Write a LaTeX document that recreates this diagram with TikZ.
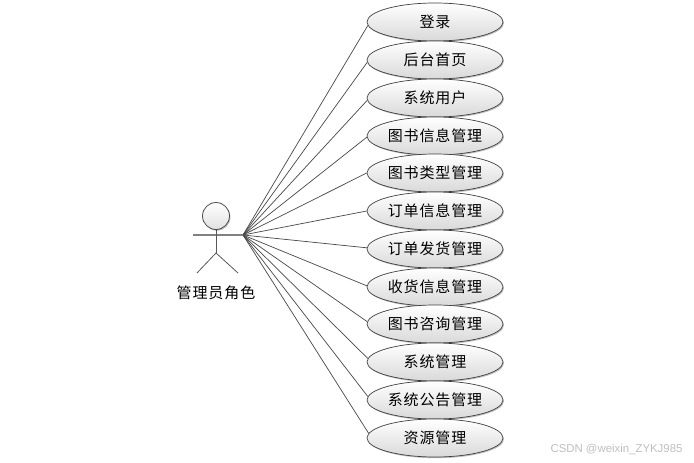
\documentclass[tikz,border=0pt]{standalone}
\usepackage{fontspec}
\usetikzlibrary{shapes.geometric,shadows}
\newfontfamily\cjk[LetterSpace=6]{Noto Sans CJK SC}
\setmainfont{Liberation Sans}
\tikzset{
  usecase/.style={ellipse,draw=black!75,line width=.7pt,minimum width=136pt,minimum height=38pt,inner sep=0pt,
    top color=white,bottom color=black!15,
    drop shadow={shadow xshift=1pt,shadow yshift=-1.2pt,opacity=.25,fill=black},
    font=\cjk\fontsize{15}{16}\selectfont,text=black},
  link/.style={draw=black!72,line width=.7pt},
  limb/.style={draw=black!65,line width=.8pt},
  arm/.style={draw=black!50,line width=1.1pt},
  head/.style={circle,draw=black!70,line width=.8pt,minimum size=27pt,inner sep=0pt,
    top color=white,bottom color=black!12,
    drop shadow={shadow xshift=1pt,shadow yshift=-1.2pt,opacity=.25,fill=black}},
  actorlabel/.style={font=\cjk\fontsize{15}{16}\selectfont,text=black,inner sep=0pt}
}
\begin{document}
\begin{tikzpicture}[x=1pt,y=-1pt]
\useasboundingbox (0,0) rectangle (694,463);
\fill[white] (0,0) rectangle (694,463);
\coordinate (hand) at (243,235);
\coordinate (lefthand) at (193,235);
\coordinate (neck) at (216,230);
\coordinate (hip) at (216,253);
\coordinate (footl) at (197,273);
\coordinate (footr) at (238,273);
\foreach \n/\y/\t in {a/22/登录,b/60/后台首页,c/98/系统用户,d/136/图书信息管理,e/173/图书类型管理,f/211/订单信息管理,g/249/订单发货管理,h/287/收货信息管理,i/324/图书咨询管理,j/362/系统管理,k/400/系统公告管理,l/438/资源管理}{
  \pgfmathsetmacro\ang{180-(\y-235)*0.016}
  \node[usecase] (\n) at (435,\y) {\raisebox{-.5pt}{\t}};
  \draw[link] (hand) -- (\n.\ang);
}
\draw[arm] (lefthand) -- (hand);
\draw[limb] (neck) -- (hip);
\draw[limb] (footl) -- (hip) -- (footr);
\node[head] (hd) at (216,216) {};
\node[actorlabel] (actor) at (216,292.5) {管理员角色};
\node[text=black!25,font=\fontsize{11.4}{13}\selectfont,inner sep=0pt] (wm) at (616.5,449.5) {CSDN @weixin\_ZYKJ985};
\end{tikzpicture}
\end{document}
